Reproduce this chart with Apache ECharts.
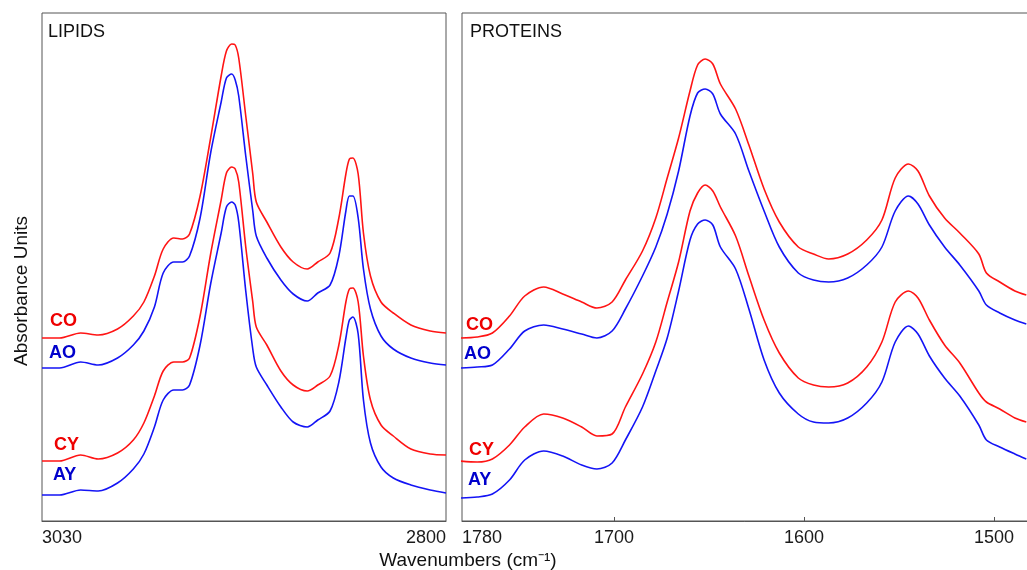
<!DOCTYPE html>
<html>
<head>
<meta charset="utf-8">
<script src="https://cdn.jsdelivr.net/npm/echarts@6/dist/echarts.min.js"></script>
<style>
  html, body { margin: 0; padding: 0; background: #fff; }
  #chart { width: 1027px; height: 570px; }
</style>
</head>
<body>
<div id="chart"></div>
<script>
// Lipid region (C-H stretch), wavenumbers in cm-1
const lipidWn = [3030, 3020, 3008, 2998, 2987, 2978, 2972, 2966, 2961, 2955, 2950, 2946, 2940, 2934, 2928, 2925, 2922, 2920, 2918, 2914,
  2910, 2908, 2902, 2894, 2887, 2879, 2873, 2866, 2861, 2857, 2855, 2853, 2850, 2847, 2843, 2837, 2830, 2820, 2809, 2800];
const lipidCO = [1.83, 1.83, 1.88, 1.86, 1.92, 2.05, 2.19, 2.45, 2.72, 2.83, 2.82, 2.87, 3.25, 3.83, 4.45, 4.70, 4.77, 4.76, 4.63, 4.05,
  3.47, 3.19, 2.99, 2.74, 2.59, 2.52, 2.59, 2.68, 3.03, 3.47, 3.62, 3.63, 3.47, 2.88, 2.45, 2.19, 2.08, 1.96, 1.90, 1.88];
const lipidAO = [1.53, 1.53, 1.59, 1.56, 1.63, 1.76, 1.90, 2.14, 2.48, 2.59, 2.59, 2.65, 3.03, 3.68, 4.19, 4.43, 4.47, 4.41, 4.25, 3.65,
  3.10, 2.85, 2.63, 2.41, 2.27, 2.20, 2.28, 2.36, 2.65, 3.10, 3.25, 3.25, 3.03, 2.52, 2.12, 1.85, 1.72, 1.63, 1.58, 1.56];
const lipidCY = [0.60, 0.60, 0.66, 0.62, 0.68, 0.81, 0.98, 1.25, 1.50, 1.59, 1.59, 1.63, 2.05, 2.67, 3.21, 3.48, 3.54, 3.52, 3.39, 2.74,
  2.19, 1.94, 1.76, 1.50, 1.36, 1.30, 1.36, 1.45, 1.76, 2.19, 2.32, 2.33, 2.19, 1.65, 1.21, 0.96, 0.85, 0.72, 0.67, 0.66];
const lipidAY = [0.26, 0.26, 0.31, 0.30, 0.38, 0.52, 0.67, 0.94, 1.21, 1.31, 1.31, 1.36, 1.76, 2.37, 2.88, 3.14, 3.19, 3.16, 2.99, 2.30,
  1.72, 1.54, 1.36, 1.14, 0.99, 0.94, 1.01, 1.10, 1.39, 1.83, 2.01, 2.04, 1.87, 1.21, 0.78, 0.54, 0.43, 0.36, 0.31, 0.28];

// Protein region (amide I / II)
const proteinWn = [1781, 1772, 1764, 1755, 1747, 1737, 1727, 1717, 1709, 1701, 1694, 1685, 1678, 1672, 1666, 1660, 1656, 1652, 1648, 1644,
  1636, 1629, 1621, 1613, 1603, 1595, 1587, 1577, 1567, 1559, 1552, 1545, 1540, 1534, 1526, 1518, 1508, 1504, 1497, 1489, 1483];
const proteinCO = [1.83, 1.84, 1.88, 2.05, 2.25, 2.34, 2.27, 2.19, 2.13, 2.19, 2.41, 2.70, 3.03, 3.43, 3.83, 4.30, 4.56, 4.62, 4.57, 4.37,
  4.12, 3.76, 3.32, 2.99, 2.74, 2.67, 2.62, 2.67, 2.81, 3.01, 3.43, 3.57, 3.50, 3.25, 3.03, 2.88, 2.67, 2.48, 2.39, 2.30, 2.26];
const proteinAO = [1.53, 1.54, 1.56, 1.72, 1.90, 1.96, 1.92, 1.87, 1.83, 1.90, 2.12, 2.45, 2.74, 3.07, 3.50, 4.05, 4.28, 4.32, 4.27, 4.07,
  3.87, 3.50, 3.10, 2.74, 2.48, 2.41, 2.39, 2.43, 2.56, 2.74, 3.10, 3.25, 3.17, 2.96, 2.74, 2.56, 2.30, 2.16, 2.08, 2.01, 1.97];
const proteinCY = [0.60, 0.59, 0.62, 0.76, 0.94, 1.07, 1.03, 0.94, 0.85, 0.87, 1.14, 1.47, 1.79, 2.19, 2.59, 3.10, 3.28, 3.36, 3.30, 3.14,
  2.85, 2.45, 2.01, 1.68, 1.43, 1.36, 1.34, 1.38, 1.54, 1.79, 2.19, 2.30, 2.23, 2.01, 1.76, 1.58, 1.28, 1.19, 1.12, 1.03, 0.99];
const proteinAY = [0.23, 0.24, 0.27, 0.41, 0.61, 0.70, 0.65, 0.56, 0.52, 0.58, 0.81, 1.14, 1.50, 1.83, 2.30, 2.81, 2.97, 3.01, 2.96, 2.74,
  2.52, 2.12, 1.61, 1.28, 1.07, 0.99, 0.98, 1.03, 1.18, 1.39, 1.79, 1.95, 1.87, 1.65, 1.43, 1.25, 0.96, 0.81, 0.74, 0.67, 0.62];

const lipidTicks = [3030, 2800];
const proteinTicks = [1780, 1700, 1600, 1500];
const proteinTickMarks = [1700, 1600, 1500];

const RED = '#ff1414';
const BLUE = '#1414f5';
const LABEL_RED = '#ee0000';
const LABEL_BLUE = '#0000cc';
const FONT = '"Liberation Sans", Arial, sans-serif';

const chart = echarts.init(document.getElementById('chart'));

// Helper to zip x/y arrays
function zip(xs, ys) {
  return xs.map((x, i) => [x, ys[i]]);
}

function spectrum(name, wn, vals, color, idx) {
  return {
    name: name,
    type: 'line',
    xAxisIndex: idx,
    yAxisIndex: idx,
    data: zip(wn, vals),
    showSymbol: false,
    smooth: 0.3,
    silent: true,
    lineStyle: { color: color, width: 1.6 },
    itemStyle: { color: color }
  };
}

function curveLabel(text, x, y, color) {
  return {
    type: 'text',
    left: x,
    top: y - 10,
    style: { text: text, fill: color, font: 'bold 18px ' + FONT }
  };
}

const axisText = {
  fontSize: 18, color: '#1a1a1a', fontFamily: FONT, margin: 8,
  formatter: v => String(v)
};

const option = {
  animation: false,
  grid: [
    { left: 42, top: 13, width: 404, height: 508, show: true, borderColor: '#555', borderWidth: 1, outerBoundsMode: 'none', containLabel: false },
    { left: 462, top: 13, width: 570, height: 508, show: true, borderColor: '#555', borderWidth: 1, outerBoundsMode: 'none', containLabel: false }
  ],
  xAxis: [
    {
      gridIndex: 0, type: 'value', min: 2800, max: 3030, inverse: true,
      axisLine: { show: true, onZero: false, lineStyle: { color: '#555' } },
      axisTick: { show: false },
      splitLine: { show: false },
      axisLabel: Object.assign({ customValues: lipidTicks, alignMinLabel: 'left', alignMaxLabel: 'right' }, axisText)
    },
    {
      gridIndex: 1, type: 'value', min: 1480, max: 1780, inverse: true,
      axisLine: { show: true, onZero: false, lineStyle: { color: '#555' } },
      axisTick: { show: true, inside: true, length: 4, customValues: proteinTickMarks, lineStyle: { color: '#555' } },
      splitLine: { show: false },
      axisLabel: Object.assign({ customValues: proteinTicks, alignMinLabel: 'left', alignMaxLabel: 'center' }, axisText)
    }
  ],
  yAxis: [
    { gridIndex: 0, type: 'value', min: 0, max: 5.08, show: false },
    { gridIndex: 1, type: 'value', min: 0, max: 5.08, show: false }
  ],
  series: [
    spectrum('CO', lipidWn, lipidCO, RED, 0),
    spectrum('AO', lipidWn, lipidAO, BLUE, 0),
    spectrum('CY', lipidWn, lipidCY, RED, 0),
    spectrum('AY', lipidWn, lipidAY, BLUE, 0),
    spectrum('CO', proteinWn, proteinCO, RED, 1),
    spectrum('AO', proteinWn, proteinAO, BLUE, 1),
    spectrum('CY', proteinWn, proteinCY, RED, 1),
    spectrum('AY', proteinWn, proteinAY, BLUE, 1)
  ],
  graphic: [
    { type: 'text', left: 48, top: 23, style: { text: 'LIPIDS', fill: '#111', font: '18px ' + FONT } },
    { type: 'text', left: 470, top: 23, style: { text: 'PROTEINS', fill: '#111', font: '18px ' + FONT } },
    {
      type: 'text', x: 22, y: 291, rotation: Math.PI / 2,
      style: { text: 'Absorbance Units', fill: '#111', font: '19px ' + FONT, align: 'center', verticalAlign: 'middle' }
    },
    {
      type: 'text', x: 468, y: 561,
      style: { text: 'Wavenumbers (cm\u207B\u00B9)', fill: '#111', font: '19px ' + FONT, align: 'center', verticalAlign: 'middle' }
    },
    curveLabel('CO', 50, 322, LABEL_RED),
    curveLabel('AO', 49, 354, LABEL_BLUE),
    curveLabel('CY', 54, 446, LABEL_RED),
    curveLabel('AY', 53, 476, LABEL_BLUE),
    curveLabel('CO', 466, 326, LABEL_RED),
    curveLabel('AO', 464, 355, LABEL_BLUE),
    curveLabel('CY', 469, 451, LABEL_RED),
    curveLabel('AY', 468, 481, LABEL_BLUE)
  ]
};

chart.setOption(option);
</script>
</body>
</html>
